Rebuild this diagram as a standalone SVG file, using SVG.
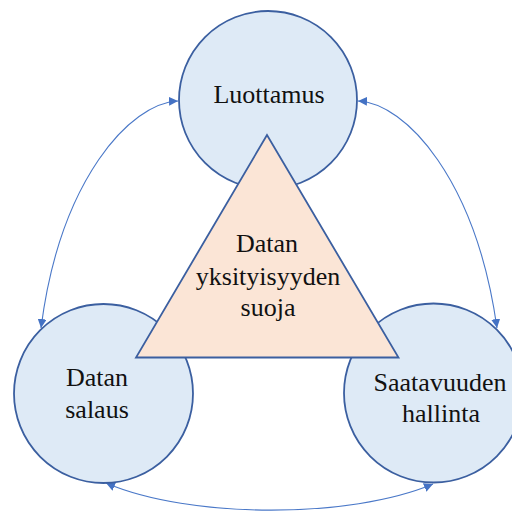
<svg xmlns="http://www.w3.org/2000/svg" width="512" height="511" viewBox="0 0 512 511">
  <style>
    .node { fill: #DEEAF6; stroke: #3B5FA0; stroke-width: 1.8; }
    .core { fill: #FBE5D6; stroke: #3B5FA0; stroke-width: 1.8; }
    .label { font-family: 'Liberation Serif', 'DejaVu Serif', serif; font-size: 26px; fill: #111; text-anchor: middle; }
    .link { fill: none; stroke: #4A78C8; stroke-width: 1.1; marker-start: url(#head); marker-end: url(#head); }
  </style>
  <defs>
    <marker id="head" viewBox="0 0 10 10" refX="10" refY="5" markerWidth="9" markerHeight="9" markerUnits="userSpaceOnUse" orient="auto-start-reverse">
      <path d="M0,0 L10,5 L0,10 Z" fill="#4472C4"/>
    </marker>
  </defs>

  <!-- curved two-way links between the outer circles -->
  <g id="connectors">
    <path class="link" d="M178,101 C130,103 60,180 41,328"/>
    <path class="link" d="M358,101 C406,103 476,180 497,328"/>
    <path class="link" d="M106,483 C190,519 350,519 433,484"/>
  </g>

  <g id="luottamus">
    <circle class="node" cx="268" cy="100" r="89"/>
    <text class="label" font-family="Liberation Serif, serif" x="269" y="103">Luottamus</text>
  </g>

  <g id="datan-salaus">
    <circle class="node" cx="103.5" cy="393.5" r="89.5"/>
    <text class="label" x="97" y="386">Datan</text>
    <text class="label" x="97" y="418">salaus</text>
  </g>

  <g id="saatavuuden-hallinta">
    <circle class="node" cx="433.5" cy="393" r="89.5"/>
    <text class="label" x="440" y="391">Saatavuuden</text>
    <text class="label" x="441" y="422">hallinta</text>
  </g>

  <g id="datan-yksityisyyden-suoja">
    <polygon class="core" points="267,135 136,357.5 398.5,357.5"/>
    <text class="label" x="267" y="252">Datan</text>
    <text class="label" x="268" y="285">yksityisyyden</text>
    <text class="label" x="268" y="316">suoja</text>
  </g>
</svg>
